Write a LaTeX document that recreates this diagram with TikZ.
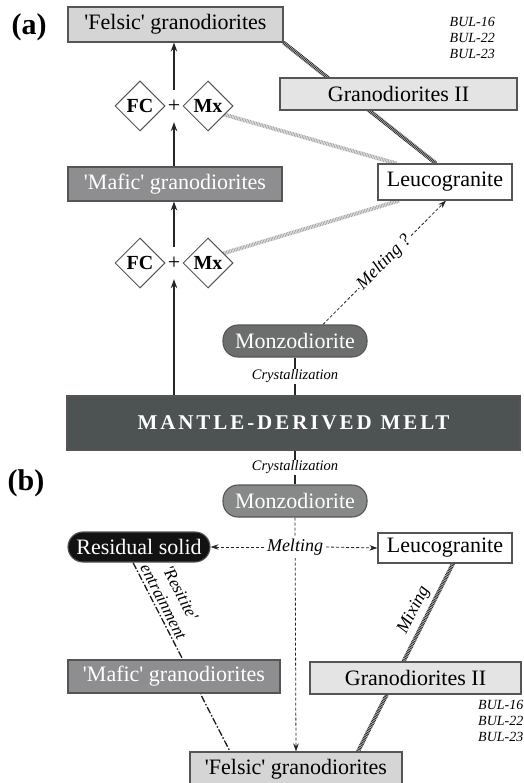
\documentclass[tikz,border=0pt]{standalone}
\usepackage{fontspec}
\setmainfont{Liberation Serif}
\usetikzlibrary{shapes.geometric,arrows.meta,backgrounds,calc}
\definecolor{bord}{HTML}{555555}
\definecolor{felsicc}{HTML}{D5D5D5}
\definecolor{granc}{HTML}{E4E4E4}
\definecolor{maficc}{HTML}{8E8E91}
\definecolor{monzoa}{HTML}{6C6E6E}
\definecolor{monzob}{HTML}{878888}
\definecolor{mantlec}{HTML}{4D5252}
\definecolor{darkhatch}{HTML}{2A2A2A}
\definecolor{lighthatch}{HTML}{A8A8A8}
\newcommand{\sq}{\textquotesingle}
\begin{document}
\begin{tikzpicture}[x=1pt,y=-1pt,
  box/.style={draw=bord, line width=1.1pt, inner sep=0pt, align=center,
    font=\fontsize{22}{24}\selectfont},
  rbox/.style={box, rounded corners=15pt},
  dia/.style={diamond, draw=bord, fill=white, line width=1pt, minimum width=50pt,
    minimum height=50pt, inner sep=0pt, font=\bfseries\fontsize{20}{22}\selectfont},
  plusnode/.style={inner sep=0pt, minimum width=14pt, minimum height=32pt,
    font=\fontsize{22}{24}\selectfont},
  arr/.style={line width=1.2pt, draw=black!85, -{Stealth[length=9pt,width=6.5pt]}},
  solidln/.style={line width=1.2pt, draw=black!85},
  dashar/.style={line width=0.8pt, draw=black!85, dash pattern=on 3pt off 2pt,
    -{Stealth[length=8pt,width=5.5pt]}},
  darkh/.style={line width=4pt, draw=darkhatch, dash pattern=on 0.9pt off 0.7pt},
  lighth/.style={line width=4pt, draw=lighthatch, dash pattern=on 0.9pt off 0.7pt},
  dashdot/.style={line width=1.3pt, draw=black!90, dash pattern=on 7pt off 2pt on 1.5pt off 2pt},
  itlab/.style={font=\itshape\fontsize{18}{19}\selectfont, inner sep=1pt},
  crys/.style={font=\itshape\fontsize{14.5}{16}\selectfont, fill=white, inner sep=1pt},
  panel/.style={font=\bfseries\fontsize{30}{32}\selectfont, inner sep=0pt},
  bul/.style={font=\itshape\fontsize{14}{16}\selectfont, inner sep=0pt}
]
\useasboundingbox (0,0) rectangle (523,783);

% ---------- (a) ----------
\node[panel] (pa) at (29,27) {(a)};
\node[box, fill=felsicc, minimum width=215pt, minimum height=35pt] (felsicA) at (175.5,24.5) {\sq Felsic\sq\ granodiorites};
\node[box, fill=granc, minimum width=237pt, minimum height=32pt] (granA) at (398.5,94) {Granodiorites II};
\node[bul, align=right, anchor=east] (bulA) at (495,38) {BUL-16\\BUL-22\\BUL-23};
\node[dia] (fc1) at (140,106) {FC};
\node[dia] (mx1) at (208,106) {Mx};
\node[plusnode] (plus1) at (174,106) {+};
\node[box, fill=maficc, text=white, minimum width=214pt, minimum height=34pt] (maficA) at (175,184) {\sq Mafic\sq\ granodiorites};
\node[box, fill=white, minimum width=134pt, minimum height=36pt] (leucoA) at (445,182) {Leucogranite};
\node[dia] (fc2) at (140,263) {FC};
\node[dia] (mx2) at (208,263) {Mx};
\node[plusnode] (plus2) at (174,263) {+};
\node[rbox, fill=monzoa, text=white, minimum width=144pt, minimum height=32pt] (monzoA) at (295,341) {Monzodiorite};
\node[box, fill=mantlec, text=white, minimum width=453pt, minimum height=54pt] (mantle) at (293.5,423)
  {\bfseries\fontsize{21}{24}\selectfont\addfontfeature{LetterSpace=14}MANTLE-DERIVED\hspace{9pt}MELT};

% ---------- (b) ----------
\node[panel] (pb) at (26,483) {(b)};
\node[rbox, fill=monzob, text=white, minimum width=144pt, minimum height=32pt] (monzoB) at (295,501) {Monzodiorite};
\node[rbox, fill=black!93, text=white, minimum width=142pt, minimum height=30pt] (residual) at (139,547) {Residual solid};
\node[box, fill=white, minimum width=134pt, minimum height=30pt] (leucoB) at (445,548) {Leucogranite};
\node[itlab, fill=white, inner sep=3pt] (meltB) at (295,547) {Melting};
\node[box, fill=maficc, text=white, minimum width=212pt, minimum height=33pt] (maficB) at (174,676.5) {\sq Mafic\sq\ granodiorites};
\node[box, fill=granc, minimum width=211pt, minimum height=32pt] (granB) at (415.5,678) {Granodiorites II};
\node[bul, align=left, anchor=west] (bulB) at (478,721) {BUL-16\\BUL-22\\BUL-23};
\node[box, fill=felsicc, minimum width=212pt, minimum height=34pt] (felsicB) at (296,769) {\sq Felsic\sq\ granodiorites};

\begin{scope}[on background layer]
  % (a) connectors
  \draw[arr] (plus2 |- mantle.north) -- (plus2.south);
  \draw[arr] (plus2.north) -- (maficA.south -| plus2);
  \draw[arr] (maficA.north -| plus1) -- (plus1.south);
  \draw[arr] (plus1.north) -- (felsicA.south -| plus1);
  \draw[darkh] (felsicA.south east) -- ($(leucoA.north)+(-9,0)$);
  \draw[lighth] ($(mx1.center)+(0,4)$) -- ($(leucoA.north west)+(19,0)$);
  \draw[lighth] ($(mx2.center)+(0,-5)$) -- ($(leucoA.south west)+(22,0)$);
  \draw[dashar] ($(monzoA.north)+(28,0)$) -- node[itlab, fill=white, sloped, pos=0.5] (meltQ) {Melting ?} ($(leucoA.south)+(1,0)$);
  \draw[solidln] (monzoA.south) -- node[crys] (crysA) {Crystallization} (monzoA.south |- mantle.north);
  % (b) connectors
  \draw[solidln] (monzoB.north |- mantle.south) -- node[crys] (crysB) {Crystallization} (monzoB.north);
  \draw[dashar] (monzoB.south) -- (felsicB.north);
  \draw[dashar] (meltB.west) -- (residual.east);
  \draw[dashar] (meltB.east) -- (leucoB.west);
  \draw[dashdot] ($(residual.south)+(-6,0)$) -- node[pos=0.23, sloped, above, align=center,
     font=\itshape\fontsize{17}{19}\selectfont, inner sep=3pt] (resl) {\sq Resitite\sq\\entrainment}
     ($(felsicB.north)+(-66,0)$);
  \draw[darkh] ($(leucoB.south)+(8,0)$) -- node[pos=0.28, sloped, above, itlab, inner sep=4pt] (mixl) {Mixing}
     ($(felsicB.north)+(62,0)$);
\end{scope}
\end{tikzpicture}
\end{document}
